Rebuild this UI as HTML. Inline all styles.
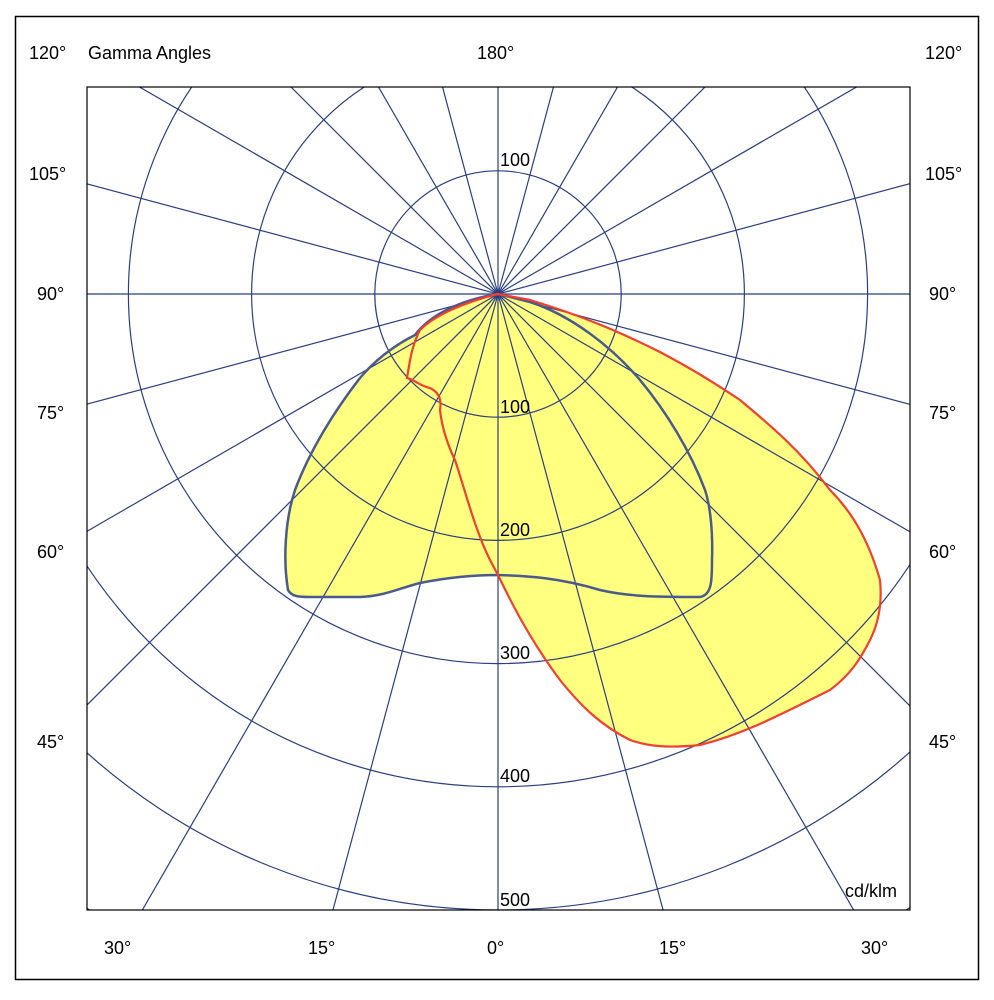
<!DOCTYPE html>
<html><head><style>html,body{margin:0;padding:0;background:#fff;width:994px;height:1000px;overflow:hidden}svg{display:block}text{font-family:"Liberation Sans",sans-serif;font-size:18px;fill:#000}</style></head>
<body>
<svg width="994" height="1000" viewBox="0 0 994 1000">
<rect x="0" y="0" width="994" height="1000" fill="#fff"/>
<rect x="15.5" y="16.5" width="963" height="963" fill="none" stroke="#000" stroke-width="1.5"/>
<svg x="87" y="87" width="823" height="823" viewBox="87 87 823 823" overflow="hidden">
<path d="M498,294 C460,300 430,315 415,335 C395,345 375,360 360,378 C335,410 310,450 295,490 C285,520 283,560 288,590 C292,597 300,597 310,597 L360,597 C385,596 400,588 420,583 C450,577 475,575 498,575 C530,576 560,578 600,590 C630,597 660,597 700,597 C712,595 712,580 712,560 C713,530 710,505 705,490 C690,450 665,410 640,380 C610,345 570,315 530,302 Z" fill="#ffff80"/>
<path d="M498,294 C465,302 435,315 420,330 C412,345 410,360 407,378 C415,380 420,386 430,388 C438,392 442,398 440,410 C442,430 450,450 455,460 C465,490 475,530 490,560 L498,575 C510,600 530,640 560,680 C580,705 600,725 630,740 C650,747 670,748 700,745 C740,735 770,720 830,690 C850,675 860,660 870,640 C880,620 882,600 880,580 C870,545 855,515 830,490 C800,450 770,425 740,400 C710,380 690,368 660,352 C620,332 580,315 530,300 Z" fill="#ffff80"/>
<g fill="none" stroke="#2b3f7f" stroke-width="1.2">
<circle cx="498" cy="294" r="123.2"/><circle cx="498" cy="294" r="246.4"/><circle cx="498" cy="294" r="369.6"/><circle cx="498" cy="294" r="492.8"/><circle cx="498" cy="294" r="616"/><circle cx="498" cy="294" r="739"/>
<g id="l">
<line x1="-302" y1="294" x2="1298" y2="294"/>
<line x1="498" y1="-506" x2="498" y2="1094"/>
</g>
<use href="#l" transform="rotate(15 498 294)"/><use href="#l" transform="rotate(30 498 294)"/><use href="#l" transform="rotate(45 498 294)"/><use href="#l" transform="rotate(60 498 294)"/><use href="#l" transform="rotate(75 498 294)"/>
</g>
<path d="M498,294 C460,300 430,315 415,335 C395,345 375,360 360,378 C335,410 310,450 295,490 C285,520 283,560 288,590 C292,597 300,597 310,597 L360,597 C385,596 400,588 420,583 C450,577 475,575 498,575 C530,576 560,578 600,590 C630,597 660,597 700,597 C712,595 712,580 712,560 C713,530 710,505 705,490 C690,450 665,410 640,380 C610,345 570,315 530,302 Z" fill="none" stroke="#4a5a8a" stroke-width="2.5"/>
<path d="M498,294 C465,302 435,315 420,330 C412,345 410,360 407,378 C415,380 420,386 430,388 C438,392 442,398 440,410 C442,430 450,450 455,460 C465,490 475,530 490,560 L498,575 C510,600 530,640 560,680 C580,705 600,725 630,740 C650,747 670,748 700,745 C740,735 770,720 830,690 C850,675 860,660 870,640 C880,620 882,600 880,580 C870,545 855,515 830,490 C800,450 770,425 740,400 C710,380 690,368 660,352 C620,332 580,315 530,300 Z" fill="none" stroke="#f04030" stroke-width="2.2"/>
<text x="500" y="166">100</text><text x="500" y="413">100</text><text x="500" y="536">200</text><text x="500" y="659">300</text><text x="500" y="782">400</text><text x="500" y="906">500</text>
<text x="845" y="897">cd/klm</text>
</svg>
<rect x="87" y="87" width="823" height="823" fill="none" stroke="#000" stroke-width="1.2"/>
<text x="29" y="59">120°</text><text x="88" y="59">Gamma Angles</text><text x="477" y="59">180°</text><text x="925" y="59">120°</text>
<text x="29" y="180">105°</text><text x="925" y="180">105°</text>
<text x="37" y="300">90°</text><text x="929" y="300">90°</text>
<text x="37" y="419">75°</text><text x="929" y="419">75°</text>
<text x="37" y="558">60°</text><text x="929" y="558">60°</text>
<text x="37" y="748">45°</text><text x="929" y="748">45°</text>
<text x="104" y="954">30°</text><text x="308" y="954">15°</text><text x="487" y="954">0°</text><text x="659" y="954">15°</text><text x="861" y="954">30°</text>
</svg>
</body></html>
